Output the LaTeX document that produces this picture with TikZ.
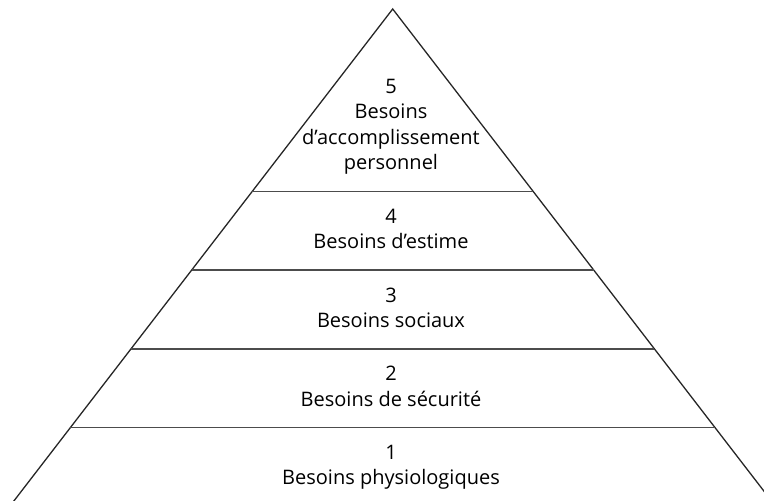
\documentclass[tikz,border=0pt]{standalone}
\usepackage{fontspec}
\setmainfont{Open Sans}
\begin{document}
\begin{tikzpicture}[x=1pt,y=1pt,
  edge/.style={line width=1.3pt,black!85},
  sep/.style={line width=1.5pt,black!70},
  lvl/.style={align=center,font=\fontsize{20}{25.5}\selectfont,inner sep=0pt,text=black}]
\useasboundingbox (0,0) rectangle (764,501);
\def\s{0.77}
\coordinate (apex) at (392.7,492);
\coordinate (bl) at ({392.7-\s*512},-20);
\coordinate (br) at ({392.7+\s*512},-20);
\begin{scope}
\clip (0,0) rectangle (764,501);
\draw[edge,line join=miter] (bl) -- (apex) -- (br);
\foreach \y in {309.5,230.8,152.1,73.4}{
  \draw[sep] ({392.7-\s*(492-\y)},\y) -- ({392.7+\s*(492-\y)},\y);
}
\end{scope}
\node[lvl,anchor=base] (l5) at (391,331) {5\\Besoins\\d’accomplissement\\personnel};
\node[lvl,anchor=base] (l4) at (391,252.1) {4\\Besoins d’estime};
\node[lvl,anchor=base] (l3) at (391,173.4) {3\\Besoins sociaux};
\node[lvl,anchor=base] (l2) at (391,94.7) {2\\Besoins de sécurité};
\node[lvl,anchor=base] (l1) at (391,16) {1\\Besoins physiologiques};
\end{tikzpicture}
\end{document}
